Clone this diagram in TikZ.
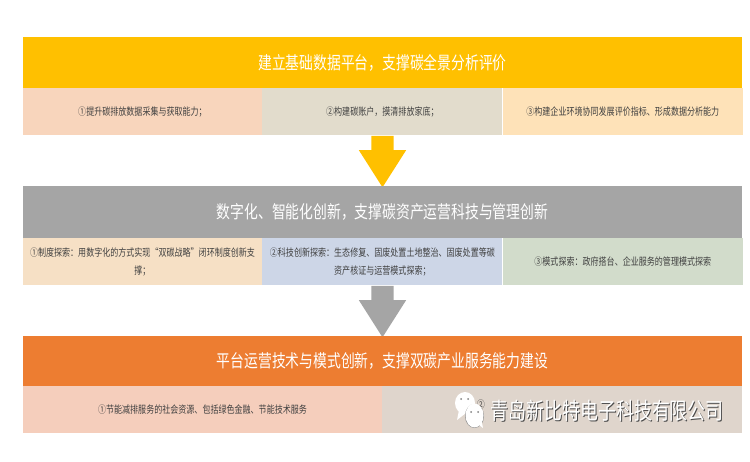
\documentclass[tikz,border=0pt]{standalone}
\usepackage{fontspec}
\usetikzlibrary{positioning, shapes.arrows}

\newfontfamily\cjk[FakeStretch=0.78]{Noto Sans CJK SC}

\definecolor{bandA}{HTML}{FFC000}
\definecolor{bandB}{HTML}{A5A5A5}
\definecolor{bandC}{HTML}{ED7D31}
\definecolor{cellAa}{HTML}{F8D5BC}
\definecolor{cellAb}{HTML}{E2DCCC}
\definecolor{cellAc}{HTML}{FEE2B8}
\definecolor{cellBa}{HTML}{F6E0C5}
\definecolor{cellBb}{HTML}{CDD6E7}
\definecolor{cellBc}{HTML}{D2DCCB}
\definecolor{cellCa}{HTML}{F5CEBC}
\definecolor{cellCb}{HTML}{DFD5CC}

\tikzset{
	title/.style = {minimum width = 719pt, inner sep = 0pt, text = white, font = \cjk\fontsize{17.7}{20}\selectfont},
	cell/.style = {inner sep = 0pt, minimum height = 47pt, align = center, text = black!75, font = \cjk\fontsize{10.3}{18}\selectfont},
	flow/.style = {single arrow, shape border rotate = 270, anchor = tail, inner sep = 11pt, minimum width = 47pt, minimum height = 51.5pt, single arrow head extend = 12.5pt, single arrow tip angle = 65},
	stamp/.style = {inner sep = 0pt, font = \cjk\fontsize{23}{25}\selectfont}
}

\begin{document}
\begin{tikzpicture}[x = 1pt, y = -1pt]

	\useasboundingbox (0, 0) rectangle (750, 462);

	% First block

	\node [title, fill = bandA, minimum height = 51pt] (titleA) at (382.5, 62.5) {建立基础数据平台，支撑碳全景分析评价};
	\node [cell, fill = cellAa, minimum width = 239pt, below right = 0pt and 0pt of titleA.south west] (textAa) {①提升碳排放数据采集与获取能力；};
	\node [cell, fill = cellAb, minimum width = 240pt, right = 0pt of textAa] (textAb) {②构建碳账户，摸清排放家底；};
	\node [cell, fill = cellAc, minimum width = 240pt, right = 0pt of textAb] (textAc) {③构建企业环境协同发展评价指标、形成数据分析能力};

	\node [flow, fill = bandA] (flowA) at (titleA |- textAb.south) {};

	% Second block

	\node [title, fill = bandB, minimum height = 52pt] (titleB) at (382.5, 212) {数字化、智能化创新，支撑碳资产运营科技与管理创新};
	\node [cell, fill = cellBa, minimum width = 239pt, below right = 0pt and 0pt of titleB.south west] (textBa) {①制度探索：用数字化的方式实现“双碳战略”闭环制度创新支\\撑；};
	\node [cell, fill = cellBb, minimum width = 240pt, right = 0pt of textBa] (textBb) {②科技创新探索：生态修复、固废处置土地整治、固废处置等碳\\资产核证与运营模式探索；};
	\node [cell, fill = cellBc, minimum width = 240pt, right = 0pt of textBb] (textBc) {③模式探索：政府搭台、企业服务的管理模式探索};

	\node [flow, fill = bandB] (flowB) at (titleB |- textBb.south) {};

	% Third block

	\node [title, fill = bandC, minimum height = 50pt] (titleC) at (382.5, 361) {平台运营技术与模式创新，支撑双碳产业服务能力建设};
	\node [cell, fill = cellCa, minimum width = 359pt, below right = 0pt and 0pt of titleC.south west] (textCa) {①节能减排服务的社会资源、包括绿色金融、节能技术服务};
	\node [cell, fill = cellCb, minimum width = 360pt, right = 0pt of textCa] (textCb) {};
	\node [cell, minimum height = 0pt] (textCc) at (481, 405) {②};

	% Watermark

	\fill [white] (465, 403) ellipse [x radius = 10, y radius = 11];
	\fill [white] (459, 410) -- (457, 420) -- (466, 413) -- cycle;
	\fill [black!45] (474.5, 416) ellipse [x radius = 9.5, y radius = 12];
	\fill [white] (474.5, 415.5) ellipse [x radius = 9, y radius = 12];
	\fill [white] (475, 422) -- (483, 428) -- (481, 418) -- cycle;
	\foreach \eye in {(461, 399), (468, 399), (471, 412), (478, 412)}
		\fill [black!50] \eye circle [radius = 1];

	\node [stamp, text = black!70] (stampBack) at (608.2, 412) {青岛新比特电子科技有限公司};
	\node [stamp, text = white] (stampFront) at (607.2, 411) {青岛新比特电子科技有限公司};

\end{tikzpicture}
\end{document}
